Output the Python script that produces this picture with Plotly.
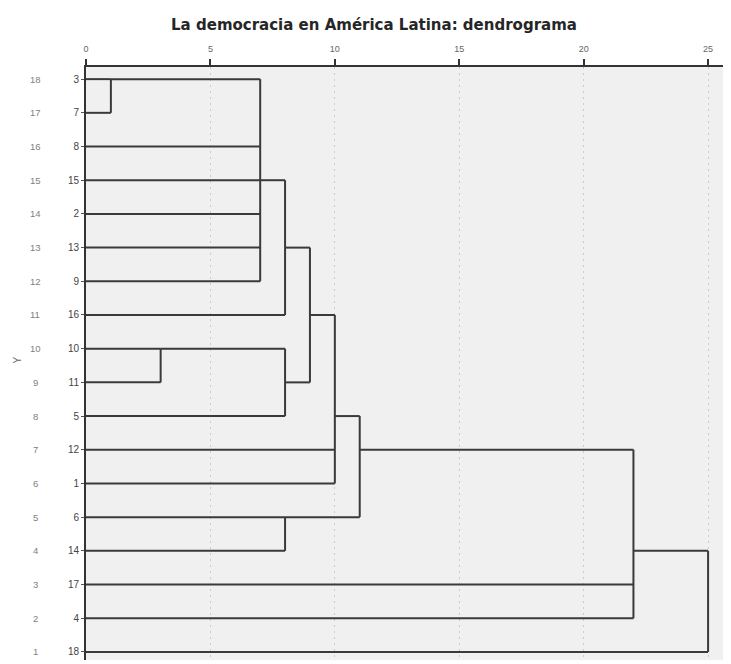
import plotly.graph_objects as go

# ---- data ----
title_text = "La democracia en América Latina: dendrograma"
leaf_labels = ["3", "7", "8", "15", "2", "13", "9", "16", "10", "11",
               "5", "12", "1", "6", "14", "17", "4", "18"]          # top -> bottom
leaf_rows = list(range(18, 0, -1))                                  # 18 .. 1
row_labels = [str(r) for r in leaf_rows]                            # outer "Y" labels

node_names = ["n37", "A", "B", "C1", "C", "D", "E", "F", "G", "H", "I"]
node_children = [["3", "7"],
                 ["n37", "8", "15", "2", "13", "9"],
                 ["A", "16"],
                 ["10", "11"],
                 ["C1", "5"],
                 ["B", "C"],
                 ["D", "12", "1"],
                 ["6", "14"],
                 ["E", "F"],
                 ["G", "17", "4"],
                 ["H", "18"]]
node_heights = [1, 7, 8, 3, 8, 9, 10, 8, 11, 22, 25]
node_rows = [18, 15, 13, 10, 9, 11, 8, 5, 7, 4, None]

x_ticks = [0, 5, 10, 15, 20, 25]

# ---- build segments from the merge table ----
row_of = dict(zip(leaf_labels, leaf_rows))
height_of = {lab: 0 for lab in leaf_labels}
parent_height = {}
for name, kids, h, r in zip(node_names, node_children, node_heights, node_rows):
    row_of[name] = r
    height_of[name] = h
    for k in kids:
        parent_height[k] = h

xs, ys = [], []
for name, kids, h in zip(node_names, node_children, node_heights):
    rs = [row_of[k] for k in kids]
    xs += [h, h, None]
    ys += [min(rs), max(rs), None]
for item, ph in parent_height.items():
    xs += [height_of[item], ph, None]
    ys += [row_of[item], row_of[item], None]

fig = go.Figure()
fig.add_trace(go.Scatter(x=xs, y=ys, mode="lines",
                         line=dict(color="#3a3a3a", width=2),
                         hoverinfo="skip", showlegend=False))

font_family = "Arial, Liberation Sans, sans-serif"
title_family = "DejaVu Sans, sans-serif"

W, H = 723, 656
L, R, T, B = 78, 3, 59, 4
pw = W - L - R

annotations = [dict(x=(27 - L) / pw, xref="paper", y=r, yref="y", text=t,
                    showarrow=False, xanchor="center", yanchor="middle",
                    font=dict(size=9.5, color="#808080", family=font_family))
               for r, t in zip(leaf_rows, row_labels)]
annotations.append(dict(x=(10 - L) / pw, xref="paper", y=0.505, yref="paper", text="Y",
                        showarrow=False, textangle=-90, xanchor="center",
                        yanchor="middle",
                        font=dict(size=10, color="#666666", family=font_family)))

fig.update_layout(
    width=W, height=H,
    margin=dict(l=L, r=R, t=T, b=B),
    paper_bgcolor="white",
    plot_bgcolor="#f0f0f0",
    title=dict(text=title_text, x=366 / W, xref="container", xanchor="center",
               y=1 - 17 / H, yref="container", yanchor="middle",
               font=dict(size=15, color="#262626", family=title_family,
                         weight="bold")),
    xaxis=dict(side="top", range=[0, 25.8], tickvals=x_ticks,
               ticktext=[str(v) for v in x_ticks],
               showgrid=True, gridcolor="#cccccc", griddash="2px,4px", gridwidth=1,
               zeroline=False, showline=True, linecolor="#333333", linewidth=2,
               ticks="outside", ticklen=6, tickcolor="#333333", tickwidth=1.5,
               ticklabelstandoff=3,
               tickfont=dict(size=9, color="#666666", family=font_family)),
    yaxis=dict(range=[0.76, 18.36], tickvals=leaf_rows, ticktext=leaf_labels,
               showgrid=False, zeroline=False, showline=True,
               linecolor="#333333", linewidth=2, ticks="outside", ticklen=3,
               tickcolor="#555555",
               tickfont=dict(size=10, color="#444444", family=font_family)),
    annotations=annotations,
)

fig.write_html("out.html")
